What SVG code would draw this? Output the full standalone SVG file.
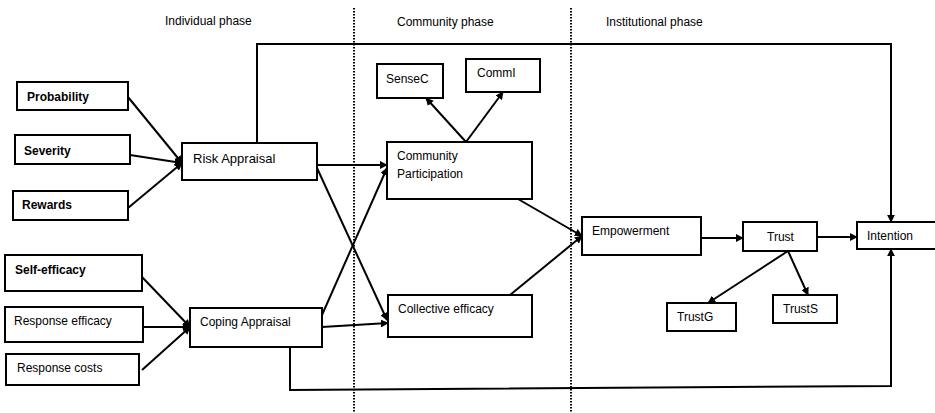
<svg xmlns="http://www.w3.org/2000/svg" width="935" height="413" viewBox="0 0 935 413">
<style>
.box{fill:#fff;stroke:#000;stroke-width:2}
.t{font-family:"Liberation Sans",Arial,sans-serif;font-size:12px;fill:#000}
.b{font-weight:bold}
.c{fill:none;stroke:#000;stroke-width:2}
.dot{stroke:#000;stroke-width:2;stroke-dasharray:1.5 1.5}
</style>
<defs>
<marker id="ah" viewBox="0 0 10 10" refX="9" refY="5" markerWidth="4" markerHeight="4" orient="auto" markerUnits="strokeWidth">
<path d="M0,0 L10,5 L0,10 z" fill="#000"/>
</marker>
</defs>
<rect width="935" height="413" fill="#fff"/>
<g id="phases">
<line class="dot" x1="354" y1="8" x2="354" y2="413"/>
<line class="dot" x1="571" y1="8" x2="571" y2="413"/>
<text class="t" x="165" y="25">Individual phase</text>
<text class="t" x="397" y="26">Community phase</text>
<text class="t" x="606" y="26">Institutional phase</text>
</g>
<g id="connectors">
<line class="c" x1="128" y1="97" x2="182" y2="163" marker-end="url(#ah)"/>
<line class="c" x1="130" y1="155" x2="182" y2="163" marker-end="url(#ah)"/>
<line class="c" x1="128" y1="208" x2="182" y2="163" marker-end="url(#ah)"/>
<line class="c" x1="142" y1="277" x2="190" y2="327" marker-end="url(#ah)"/>
<line class="c" x1="143" y1="327" x2="190" y2="327" marker-end="url(#ah)"/>
<line class="c" x1="142" y1="370" x2="190" y2="327" marker-end="url(#ah)"/>
<line class="c" x1="317" y1="165" x2="387" y2="165" marker-end="url(#ah)"/>
<line class="c" x1="317" y1="168" x2="387" y2="320" marker-end="url(#ah)"/>
<line class="c" x1="322" y1="315" x2="387" y2="168" marker-end="url(#ah)"/>
<line class="c" x1="322" y1="327" x2="388" y2="323" marker-end="url(#ah)"/>
<line class="c" x1="466" y1="142" x2="426" y2="98" marker-end="url(#ah)"/>
<line class="c" x1="466" y1="142" x2="503" y2="92" marker-end="url(#ah)"/>
<line class="c" x1="518" y1="199" x2="582" y2="236" marker-end="url(#ah)"/>
<line class="c" x1="510" y1="295" x2="582" y2="236" marker-end="url(#ah)"/>
<line class="c" x1="701" y1="238" x2="743" y2="238" marker-end="url(#ah)"/>
<line class="c" x1="788" y1="251" x2="708" y2="303" marker-end="url(#ah)"/>
<line class="c" x1="788" y1="251" x2="808" y2="295" marker-end="url(#ah)"/>
<line class="c" x1="817" y1="237" x2="857" y2="237" marker-end="url(#ah)"/>
<polyline class="c" points="257,143 257,44 891,44 891,222" marker-end="url(#ah)"/>
<polyline class="c" points="290,347 290,390 891,386 891,249" marker-end="url(#ah)"/>
</g>
<g id="probability"><rect class="box" x="17" y="82" width="111" height="28"/><text class="t b" x="27" y="101">Probability</text></g>
<g id="severity"><rect class="box" x="15" y="135" width="115" height="29"/><text class="t b" x="24" y="155">Severity</text></g>
<g id="rewards"><rect class="box" x="13" y="191" width="115" height="29"/><text class="t b" x="22" y="209">Rewards</text></g>
<g id="risk-appraisal"><rect class="box" x="182" y="143" width="135" height="37"/><text class="t" x="193" y="163" style="font-size:13px">Risk Appraisal</text></g>
<g id="self-efficacy"><rect class="box" x="5" y="255" width="137" height="36"/><text class="t b" x="15" y="274">Self-efficacy</text></g>
<g id="response-efficacy"><rect class="box" x="5" y="307" width="138" height="35"/><text class="t" x="14" y="325">Response efficacy</text></g>
<g id="response-costs"><rect class="box" x="6" y="354" width="133" height="31"/><text class="t" x="17" y="372">Response costs</text></g>
<g id="coping-appraisal"><rect class="box" x="190" y="308" width="132" height="39"/><text class="t" x="200" y="326">Coping Appraisal</text></g>
<g id="sensec"><rect class="box" x="377" y="64" width="66" height="34"/><text class="t" x="386" y="83">SenseC</text></g>
<g id="commi"><rect class="box" x="466" y="59" width="74" height="33"/><text class="t" x="477" y="77">CommI</text></g>
<g id="community-participation"><rect class="box" x="387" y="142" width="145" height="57"/><text class="t" x="397" y="160">Community</text><text class="t" x="397" y="178">Participation</text></g>
<g id="collective-efficacy"><rect class="box" x="388" y="295" width="144" height="42"/><text class="t" x="398" y="313">Collective efficacy</text></g>
<g id="empowerment"><rect class="box" x="582" y="217" width="119" height="38"/><text class="t" x="592" y="235">Empowerment</text></g>
<g id="trust"><rect class="box" x="743" y="222" width="74" height="29"/><text class="t" x="767" y="241">Trust</text></g>
<g id="intention"><rect class="box" x="857" y="222" width="90" height="27"/><text class="t" x="867" y="240">Intention</text></g>
<g id="trustg"><rect class="box" x="667" y="303" width="69" height="28"/><text class="t" x="677" y="321">TrustG</text></g>
<g id="trusts"><rect class="box" x="773" y="295" width="64" height="28"/><text class="t" x="783" y="313">TrustS</text></g>
</svg>
